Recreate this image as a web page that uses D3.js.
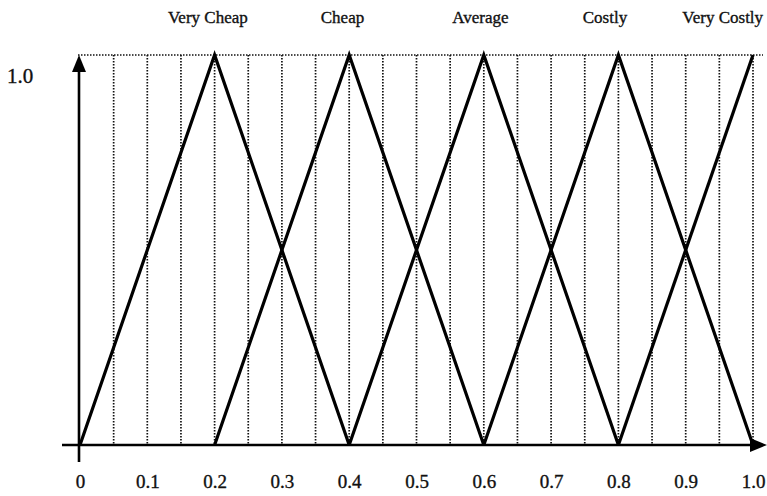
<!DOCTYPE html>
<html>
<head>
<meta charset="utf-8">
<script src="https://cdn.jsdelivr.net/npm/d3@7"></script>
<style>
  body { margin: 0; background: #fff; }
  svg { display: block; }
  text { font-family: "Liberation Serif", "DejaVu Serif", serif; fill: #111; stroke: #111; stroke-width: 0.35px; }
</style>
</head>
<body>
<svg></svg>
<script>
// fuzzy set names and where their labels sit (in x units)
const categories = ["Very Cheap", "Cheap", "Average", "Costly", "Very Costly"];
const labelAt = [0.19, 0.39, 0.595, 0.78, 0.955];

// membership function break points for each set
const seriesX = [
    [0, 0.2, 0.4],
    [0.2, 0.4, 0.6],
    [0.4, 0.6, 0.8],
    [0.6, 0.8, 1.0],
    [0.8, 1.0]
];
const seriesY = [
    [0, 1, 0],
    [0, 1, 0],
    [0, 1, 0],
    [0, 1, 0],
    [0, 1]
];

const xTicks = [0, 0.1, 0.2, 0.3, 0.4, 0.5, 0.6, 0.7, 0.8, 0.9, 1.0];
const xTickLabels = ["0", "0.1", "0.2", "0.3", "0.4", "0.5", "0.6", "0.7", "0.8", "0.9", "1.0"];
const gridX = [0.05, 0.1, 0.15, 0.2, 0.25, 0.3, 0.35, 0.4, 0.45, 0.5,
               0.55, 0.6, 0.65, 0.7, 0.75, 0.8, 0.85, 0.9, 0.95, 1.0];
const yLabel = "1.0";

const width = 767;
const height = 496;

const x = d3.scaleLinear().domain([0, 1]).range([80, 753]);
const y = d3.scaleLinear().domain([0, 1]).range([445, 55]);

const svg = d3.select("svg")
    .attr("width", width)
    .attr("height", height);

// dotted grid
svg.append("g")
    .selectAll("line")
    .data(gridX)
    .enter()
    .append("line")
    .attr("x1", d => x(d))
    .attr("x2", d => x(d))
    .attr("y1", y(1))
    .attr("y2", y(0))
    .attr("stroke", "#111")
    .attr("stroke-width", 1.7)
    .attr("stroke-dasharray", "1.5,1.5");

svg.append("line")
    .attr("x1", x(0) - 2)
    .attr("x2", 763)
    .attr("y1", y(1))
    .attr("y2", y(1))
    .attr("stroke", "#111")
    .attr("stroke-width", 1.7)
    .attr("stroke-dasharray", "1.5,1.5");

// axes with arrows
svg.append("line")
    .attr("x1", 62).attr("x2", 752)
    .attr("y1", y(0)).attr("y2", y(0))
    .attr("stroke", "#000").attr("stroke-width", 2.6);
svg.append("path")
    .attr("d", `M767,${y(0)} L750,${y(0) - 7} L750,${y(0) + 7} Z`)
    .attr("fill", "#000");

svg.append("line")
    .attr("x1", x(0) - 1).attr("x2", x(0) - 1)
    .attr("y1", 462).attr("y2", y(1) + 14)
    .attr("stroke", "#000").attr("stroke-width", 2.6);
svg.append("path")
    .attr("d", `M${x(0) - 1},${y(1)} L${x(0) - 8},${y(1) + 17} L${x(0) + 6},${y(1) + 17} Z`)
    .attr("fill", "#000");

// membership triangles
const line = d3.line()
    .x(d => x(d[0]))
    .y(d => y(d[1]));

svg.append("g")
    .selectAll("path")
    .data(seriesX.map((xs, i) => xs.map((v, j) => [v, seriesY[i][j]])))
    .enter()
    .append("path")
    .attr("d", line)
    .attr("fill", "none")
    .attr("stroke", "#000")
    .attr("stroke-width", 3.2)
    .attr("stroke-linejoin", "miter");

// tick labels
const xAxis = d3.axisBottom(x)
    .tickValues(xTicks)
    .tickFormat((d, i) => xTickLabels[i])
    .tickSize(0)
    .tickPadding(0);

const ax = svg.append("g")
    .attr("transform", `translate(0, 488)`)
    .call(xAxis);
ax.select(".domain").remove();
ax.selectAll("text")
    .attr("dy", 0)
    .attr("y", 0)
    .style("font-family", "'Liberation Serif', serif")
    .style("font-size", "19px")
    .attr("fill", "#111");

svg.append("text")
    .attr("x", 7)
    .attr("y", y(1) + 28)
    .style("font-size", "21px")
    .text(yLabel);

svg.append("g")
    .selectAll("text")
    .data(categories)
    .enter()
    .append("text")
    .attr("x", (d, i) => x(labelAt[i]))
    .attr("y", 23)
    .attr("text-anchor", "middle")
    .style("font-size", "17px")
    .text(d => d);
</script>
</body>
</html>
